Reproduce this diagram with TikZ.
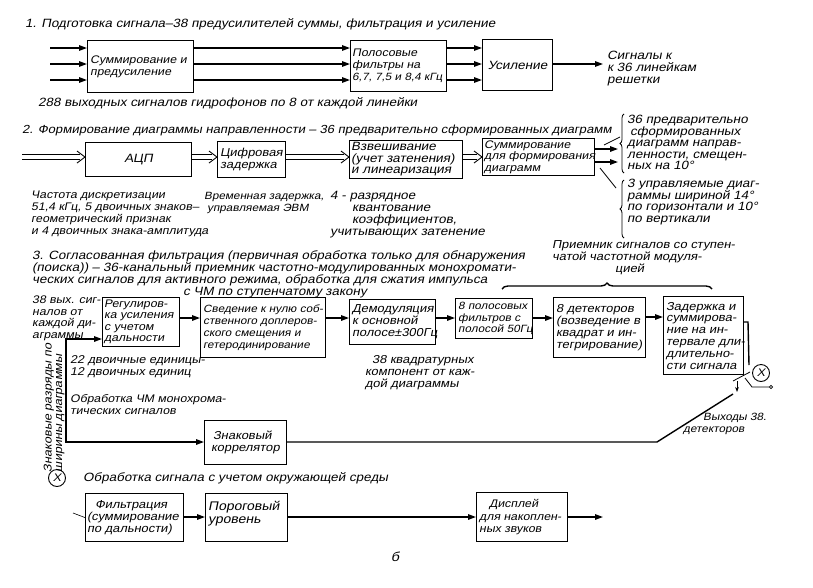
\documentclass[tikz,border=0pt]{standalone}
\usepackage{fontspec}
\setmainfont{Liberation Sans}[FakeSlant=0.2,FakeStretch=1.12]
\usetikzlibrary{arrows.meta,decorations.pathreplacing}
\newcommand\fsz[2]{\fontsize{#1}{#2}\selectfont}
\begin{document}
\begin{tikzpicture}[x=1pt,y=-1pt,
 box/.style={draw,line width=1.1pt,anchor=north west,inner sep=0pt},
 btx/.style={inner sep=0pt,anchor=west,align=left},
 arr/.style={line width=1.4pt,-{Triangle[length=8pt,width=5.5pt]}},
 dl/.style={line width=0.9pt},
 lbl/.style={inner sep=0pt,font=\fsz{12}{12},align=left,anchor=north west},
 thinl/.style={line width=0.8pt},
 cnode/.style={draw,circle,line width=0.9pt,inner sep=0pt,minimum size=17pt,font=\fsz{11}{11}}]
\fill[white] (0,0) rectangle (813,587);
\useasboundingbox (0,0) rectangle (813,587);
\newcommand\dblarrow[2]{%
  \draw[dl] ([yshift=2.2pt]#1) -- ([xshift=-5pt,yshift=2.2pt]#2)
            ([yshift=-2.2pt]#1) -- ([xshift=-5pt,yshift=-2.2pt]#2);
  \draw[dl] ([xshift=-8pt,yshift=6pt]#2) -- (#2) -- ([xshift=-8pt,yshift=-6pt]#2);}

% ---------- section 1
\node[lbl,anchor=west] (t1) at (25,24) {1. Подготовка сигнала–38 предусилителей суммы, фильтрация и усиление};
\node[box,minimum width=106pt,minimum height=52pt] (sum1) at (87,40) {};
\node[btx,font=\fsz{11}{12}] (sum1t) at ([xshift=3pt]sum1.west) {Суммирование и\\предусиление};
\node[box,minimum width=96pt,minimum height=51pt] (filt1) at (350,40) {};
\node[btx,font=\fsz{11}{12}] (filt1t) at ([xshift=2pt]filt1.west) {Полосовые\\фильтры на\\{\fsz{10.5}{12}6,7, 7,5 и 8,4 кГц}};
\node[box,minimum width=70pt,minimum height=51pt] (amp1) at (482,39) {};
\node[btx,anchor=center,font=\fsz{12}{12}] (amp1t) at (amp1.center) {Усиление};
\node[lbl,anchor=west] (sig) at (607,69) {Сигналы к\\к 36 линейкам\\решетки};
\node[lbl,anchor=west] (t288) at (38,103) {288 выходных сигналов гидрофонов по 8 от каждой линейки};
\foreach \yy in {48,64,80}{
  \coordinate (in\yy) at (50,\yy);
  \draw[arr] (in\yy) -- (sum1.west |- 0,\yy);
  \draw[arr] (sum1.east |- 0,\yy) -- (filt1.west |- 0,\yy);
  \draw[arr] (filt1.east |- 0,\yy) -- (amp1.west |- 0,\yy);
}
\draw[arr,shorten >=4pt] (amp1.east |- 0,64) -- (sig.west |- 0,64);

% ---------- section 2
\node[lbl,anchor=west,font=\fsz{11.7}{12}] (t2) at (22,130) {2. Формирование диаграммы направленности – 36 предварительно сформированных диаграмм};
\node[box,minimum width=106pt,minimum height=34pt] (adc) at (85,142) {};
\node[btx,anchor=center,font=\fsz{12}{12}] (adct) at (adc.center) {АЦП};
\node[box,minimum width=68pt,minimum height=36pt] (dly) at (217,141) {};
\node[btx,font=\fsz{11.5}{12}] (dlyt) at ([xshift=3pt]dly.west) {Цифровая\\задержка};
\node[box,minimum width=113pt,minimum height=38pt] (wgt) at (349,140) {};
\node[btx,font=\fsz{12}{11.5}] (wgtt) at ([xshift=2pt]wgt.west) {Взвешивание\\(учет затенения)\\и линеаризация};
\node[box,minimum width=112pt,minimum height=37pt] (bsum) at (482,138) {};
\node[btx,font=\fsz{11}{11.5}] (bsumt) at ([xshift=2pt]bsum.west) {Суммирование\\для формирования\\диаграмм};
\coordinate (in2) at (22,157);
\coordinate (e1) at (adc.west |- 0,157);
\coordinate (s2) at (adc.east |- 0,157);
\coordinate (e2) at (dly.west |- 0,157);
\coordinate (s3) at (dly.east |- 0,157);
\coordinate (e3) at (wgt.west |- 0,157);
\coordinate (s4) at (wgt.east |- 0,157);
\coordinate (e4) at (bsum.west |- 0,157);
\dblarrow{in2}{e1}
\dblarrow{s2}{e2}
\dblarrow{s3}{e3}
\dblarrow{s4}{e4}
\coordinate (o1) at (618,149);
\coordinate (o2) at (618,162);
\draw[arr] (bsum.east |- o1) -- (o1);
\draw[arr] (bsum.east |- o2) -- (o2);
\draw[thinl] (604,145) -- (620,137);
\draw[thinl] (600,168) -- (616,188);
\draw[thinl,decorate,decoration={brace,amplitude=4pt}] (624,173) -- (624,114);
\draw[thinl,decorate,decoration={brace,amplitude=4pt}] (624,238) -- (624,180);
\node[lbl,font=\fsz{12}{11.5}] (n36) at (627,115) {36 предварительно\\\hspace*{3pt}сформированных\\диаграмм направ-\\ленности, смещен-\\ных на 10°};
\node[lbl,font=\fsz{12}{11.5}] (n3) at (627,179) {3 управляемые диаг-\\раммы шириной 14°\\по горизонтали и 10°\\по вертикали};
\node[lbl,font=\fsz{11}{12}] (nfreq) at (31,191) {Частота дискретизации\\51,4 кГц, 5 двоичных знаков–\\геометрический признак\\и 4 двоичных знака-амплитуда};
\node[lbl,font=\fsz{10.5}{12}] (ntime) at (204,192) {Временная задержка,\\\hspace*{3pt}управляемая ЭВМ};
\node[lbl] (nbits) at (330,191) {4 - разрядное\\\hspace*{22pt}квантование\\\hspace*{22pt}коэффициентов,\\учитывающих затенение};

% ---------- section 3
\node[lbl] (t3) at (32,250) {3. Согласованная фильтрация (первичная обработка только для обнаружения\\(поиска)) – 36-канальный приемник частотно-модулированных монохромати-\\ческих сигналов для активного режима, обработка для сжатия импульса\\\hspace*{151pt}с ЧМ по ступенчатому закону};
\node[lbl,font=\fsz{11.5}{12}] (nrec) at (552,240) {Приемник сигналов со ступен-\\чатой частотной модуля-\\\hspace*{63pt}цией};
\draw[line width=1.4pt,decorate,decoration={brace,amplitude=6pt}] (502,289) -- (712,289);
\node[lbl,font=\fsz{11}{11.5}] (n38) at (32,296) {38 вых. сиг-\\налов от\\каждой ди-\\аграммы};
\node[box,minimum width=77pt,minimum height=49pt] (reg) at (102,297) {};
\node[btx,font=\fsz{11}{11.5}] (regt) at ([xshift=2pt]reg.west) {Регулиров-\\ка усиления\\с учетом\\дальности};
\node[box,minimum width=125pt,minimum height=60pt] (sved) at (200,297) {};
\node[btx,font=\fsz{10.5}{12}] (svedt) at ([xshift=3pt]sved.west) {Сведение к нулю соб-\\ственного доплеров-\\ского смещения и\\гетеродинирование};
\node[box,minimum width=86pt,minimum height=45pt] (dem) at (349,299) {};
\node[btx,font=\fsz{11.5}{12}] (demt) at ([xshift=3pt]dem.west) {Демодуляция\\к основной\\полосе±300Гц};
\node[box,minimum width=77pt,minimum height=40pt] (bpf) at (455,298) {};
\node[btx,font=\fsz{10.5}{11.5}] (bpft) at ([xshift=3pt]bpf.west) {8 полосовых\\фильтров с\\полосой 50Гц};
\node[box,minimum width=92pt,minimum height=60pt] (det) at (553,297) {};
\node[btx,font=\fsz{11.5}{12}] (dett) at ([xshift=3pt]det.west) {8 детекторов\\(возведение в\\квадрат и ин-\\тегрирование)};
\node[box,minimum width=80pt,minimum height=78pt] (acc) at (663,296) {};
\node[btx,font=\fsz{11.5}{11.8}] (acct) at ([xshift=3pt]acc.west) {Задержка и\\суммирова-\\ние на ин-\\тервале дли-\\длительно-\\сти сигнала};
\draw[arr] (reg.east |- 0,318) -- (sved.west |- 0,318);
\draw[arr] (sved.east |- 0,318) -- (dem.west |- 0,318);
\draw[arr] (dem.east |- 0,318) -- (bpf.west |- 0,318);
\draw[arr] (bpf.east |- 0,318) -- (det.west |- 0,318);
\draw[arr] (det.east |- 0,317) -- (acc.west |- 0,317);
\node[cnode] (xa) at (761,373) {X};
\coordinate (sw) at (749,365);
\draw[line width=1.4pt] (acc.east |- 0,322) -- (748,322) -- (sw);
\draw[thinl] (733,381) -- (750,372);
\draw[thinl] (745,378) -- (752,387) -- (769,387);
\draw[thinl] (771,387) circle (1.6pt);
\draw[thinl,-{Stealth[length=5pt]}] (737,381) -- (737,392);
\node[lbl,font=\fsz{11.3}{12}] (n22) at (70,355) {22 двоичные единицы-\\12 двоичных единиц};
\node[lbl,font=\fsz{11}{12}] (nchm) at (70,394) {Обработка ЧМ монохрома-\\тических сигналов};
\node[lbl,font=\fsz{11.5}{12}] (nq) at (365,355) {\hspace*{7pt}38 квадратурных\\компонент от каж-\\дой диаграммы};
\node[box,minimum width=82pt,minimum height=44pt] (corr) at (204,420) {};
\node[btx,font=\fsz{11.5}{12}] (corrt) at ([xshift=7pt]corr.west) {\hspace*{2pt}Знаковый\\коррелятор};
\draw[line width=1.4pt,{Triangle[length=8pt,width=5.5pt]}-{Triangle[length=8pt,width=5.5pt]}] (reg.west |- 0,339) -- (66,339) -- (66,442) -- (corr.west |- 0,442);
\node[lbl,rotate=90,anchor=center,font=\fsz{11.3}{10.5}] (nsign) at (54,408) {Знаковые разряды по\\ширины диаграммы};
\coordinate (dout) at (733,394);
\draw[line width=1.4pt] (corr.east |- 0,442) -- (657,442) -- (dout);
\node[lbl,font=\fsz{10.5}{12}] (nout) at (683,413) {\hspace*{20pt}Выходы 38.\\детекторов};

% ---------- section 4
\node[cnode] (xb) at (57,478) {X};
\node[lbl,anchor=west] (t4) at (83,478) {Обработка сигнала с учетом окружающей среды};
\node[box,minimum width=98pt,minimum height=48pt] (fil) at (85,493) {};
\node[btx,font=\fsz{11.5}{12}] (filt) at ([xshift=2pt]fil.west) {\hspace*{8pt}Фильтрация\\(суммирование\\по дальности)};
\node[box,minimum width=82pt,minimum height=48pt] (thr) at (205,493) {};
\node[btx,font=\fsz{12.5}{13}] (thrt) at ([xshift=3pt,yshift=4pt]thr.west) {Пороговый\\уровень};
\node[box,minimum width=91pt,minimum height=49pt] (disp) at (476,492) {};
\node[btx,font=\fsz{11}{12.5}] (dispt) at ([xshift=3pt]disp.west) {\hspace*{10pt}Дисплей\\для накоплен-\\ных звуков};
\coordinate (fin) at (73,513);
\draw[line width=0.6pt] (fin) -- (fil.west);
\draw[arr] (fil.east |- 0,517) -- (thr.west |- 0,517);
\draw[arr] (thr.east |- 0,517) -- (disp.west |- 0,517);
\coordinate (dend) at (603,517);
\draw[arr] (disp.east |- dend) -- (dend);
\node[lbl,anchor=center,font=\fsz{13}{13}] (pg) at (395,557) {б};
\end{tikzpicture}
\end{document}
